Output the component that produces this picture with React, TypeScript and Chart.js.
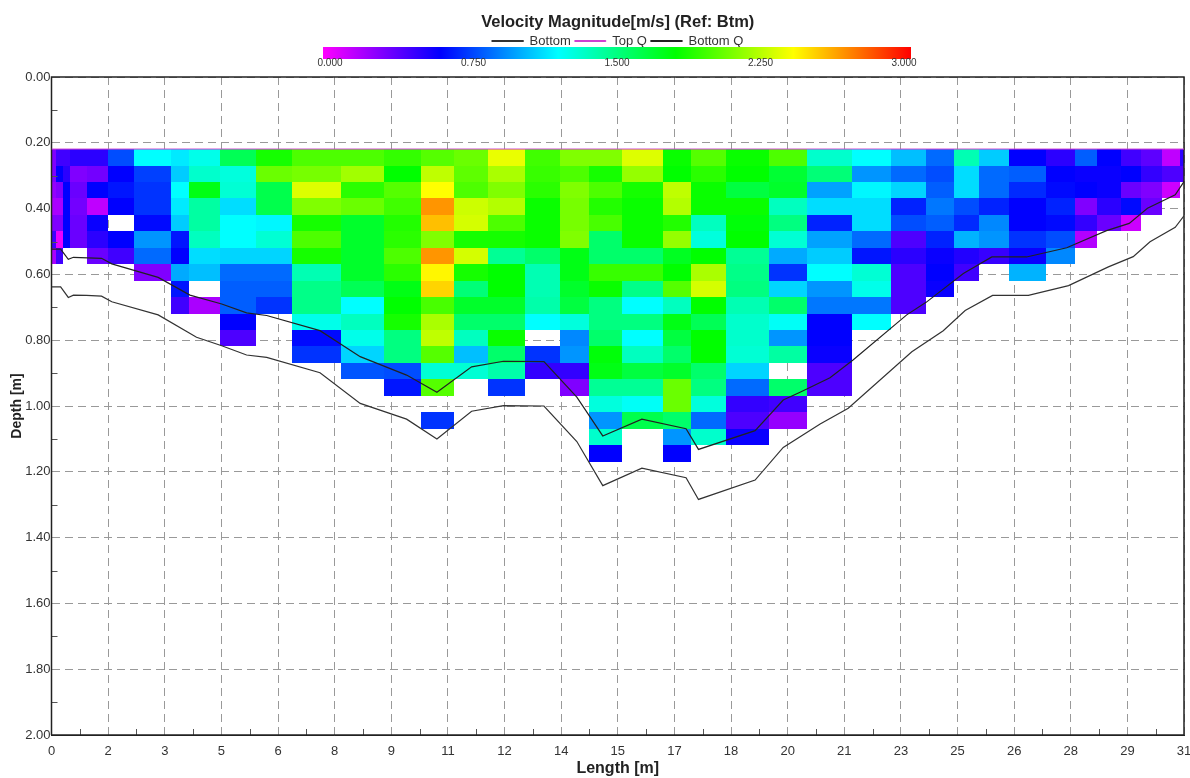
import React, { useEffect, useRef } from "react";
import { Chart, registerables } from "chart.js";

Chart.register(...registerables);

const titleText = "Velocity Magnitude[m/s] (Ref: Btm)";
const xTickLabels = ["0","2","3","5","6","8","9","11","12","14","15","17","18","20","21","23","25","26","28","29","31"];
const xTickStep = 1.55;
const colorbarLabels = ["0.000", "0.750", "1.500", "2.250", "3.000"];
const colorStops = [
  [0.0, 255, 0, 255],
  [0.6, 0, 0, 255],
  [1.2, 0, 255, 255],
  [1.8, 0, 255, 0],
  [2.4, 255, 255, 0],
  [3.0, 255, 0, 0],
];

const columnEdges = [0,0.115,0.323,0.506,0.964,1.538,2.267,3.271,3.764,4.621,5.606,6.592,7.925,9.11,10.115,11.018,11.949,12.962,13.92,14.714,15.617,16.74,17.506,18.464,19.641,20.681,21.913,22.981,23.939,24.705,25.39,26.211,27.224,28.018,28.62,29.277,29.825,30.4,30.892,31];
const firstRowDepth = 0.219;
const rowDepth = 0.05;
const _ = null;

// one list per ensemble column, top row first; null = no data
const velocityColumns: (number | null)[][] = [
  [0.3,0.3,0.25,0.2,0.3,0.45,0.2],
  [0.45,0.6,0.3,0.2,0.3,0.05,0.45],
  [0.45,0.5,0.6,0.6,0.6,0.6],
  [0.5,0.3,0.35,0.33,0.35,0.35],
  [0.5,0.33,0.6,0.15,0.58,0.5,0.35],
  [0.78,0.6,0.65,0.6,_,0.6,0.45],
  [1.2,0.75,0.72,0.72,0.62,0.95,0.85,0.3],
  [1.15,1.08,1.2,1.15,1.08,0.65,0.6,1.0,0.65,0.45],
  [1.25,1.32,1.75,1.42,1.42,1.35,1.12,1.05,_,0.2],
  [1.6,1.28,1.3,1.12,1.2,1.2,1.1,0.85,0.82,0.82,0.6,0.42],
  [1.85,2.05,1.62,1.62,1.18,1.3,1.1,0.85,0.82,0.72],
  [1.98,2.08,2.32,2.1,1.85,1.98,1.85,1.38,1.48,1.48,1.25,0.62,0.72],
  [1.98,2.18,1.9,2.05,1.7,1.7,1.7,1.7,1.6,1.2,1.35,1.25,1.1,0.8],
  [1.92,1.8,2.0,1.95,1.88,1.9,1.98,1.9,1.75,1.8,1.85,1.5,1.5,0.78,0.65],
  [2.0,2.25,2.4,2.65,2.55,2.1,2.65,2.42,2.5,1.97,2.2,2.25,2.0,1.3,2.0,_,0.72],
  [2.05,2.02,1.98,2.28,2.3,1.85,2.3,1.85,1.52,1.7,1.55,1.35,1.05,1.3],
  [2.35,2.2,2.1,2.22,1.98,1.85,1.45,1.8,1.8,1.7,1.55,1.82,1.55,1.4,0.72],
  [1.95,1.93,1.9,1.82,1.82,1.82,1.55,1.38,1.38,1.4,1.2,_,0.72,0.48],
  [2.1,1.98,2.1,2.08,2.08,2.1,1.75,1.75,1.7,1.65,1.28,0.92,0.95,0.48,0.3],
  [2.1,1.85,1.98,1.88,1.97,1.55,1.55,1.93,1.82,1.5,1.5,1.55,1.78,1.75,1.45,1.28,0.95,1.32,0.6],
  [2.32,2.15,1.85,1.82,1.82,1.82,1.55,1.93,1.48,1.2,1.5,1.2,1.35,1.65,1.45,1.22,1.62],
  [1.82,1.8,2.25,2.22,1.88,2.15,1.72,1.8,2.0,1.35,1.75,1.65,1.55,1.7,2.05,2.05,1.55,0.95,0.6],
  [2.0,1.9,1.82,1.82,1.35,1.28,1.8,2.2,2.3,1.8,1.6,1.8,1.8,1.55,1.5,1.28,0.85,1.32],
  [1.82,1.8,1.65,1.82,1.78,1.8,1.45,1.48,1.5,1.38,1.32,1.32,1.3,1.1,0.85,0.48,0.42,0.58],
  [1.98,1.68,1.7,1.35,1.5,1.3,1.0,0.72,1.1,1.55,1.22,0.95,1.42,_,1.55,0.45,0.25],
  [1.32,1.52,0.98,1.12,0.68,0.98,1.08,1.2,0.95,0.88,0.6,0.6,0.58,0.42,0.42],
  [1.2,0.95,1.18,1.12,1.12,0.85,0.65,1.3,1.25,0.88,1.2],
  [1.05,0.85,1.1,0.68,0.78,0.42,0.5,0.42,0.42,0.42],
  [0.85,0.78,0.82,0.88,0.82,0.68,0.58,0.6,0.58],
  [1.38,1.12,1.12,0.78,0.7,1.02,0.52,0.45],
  [1.08,0.85,0.85,0.68,0.92,0.95,0.47],
  [0.6,0.82,0.7,0.6,0.6,0.72,0.58,1.02],
  [0.5,0.6,0.62,0.68,0.62,0.78,0.92],
  [0.82,0.58,0.6,0.3,0.48,0.18],
  [0.6,0.58,0.58,0.5,0.35],
  [0.45,0.6,0.35,0.62,0.12],
  [0.38,0.48,0.3,0.35],
  [0.15,0.42,0.12],
  [0.5,0.42],
];

const bottomX = [0,0.25,0.46,0.6,0.96,1.37,1.65,2.92,3.97,4.66,5.34,5.89,7.35,8.45,9.72,10.55,11.5,12.37,13.48,14.38,15.09,16.16,17.37,17.71,19.26,20.03,21.04,21.81,23.55,24.41,25.01,25.76,26.74,27.84,28.93,29.61,30.07,30.76,31];
const bottomDepth = [0.638,0.638,0.67,0.663,0.664,0.666,0.683,0.723,0.791,0.817,0.845,0.852,0.899,0.992,1.04,1.1,1.016,0.999,1.0,1.108,1.242,1.189,1.218,1.284,1.225,1.126,1.055,1.007,0.835,0.771,0.71,0.664,0.664,0.634,0.577,0.546,0.501,0.457,0.422];
const bottomQX = [0,0.25,0.46,0.6,1.37,1.65,2.92,3.79,4.66,5.34,5.89,7.35,8.45,9.72,10.55,11.5,12.37,13.48,14.38,15.09,16.16,17.37,17.71,19.26,20.03,20.49,21.31,21.94,23.41,23.94,24.96,25.74,26.69,27.79,28.88,29.5,30.0,30.76,31];
const bottomQDepth = [0.523,0.523,0.554,0.548,0.551,0.568,0.609,0.663,0.69,0.717,0.725,0.771,0.85,0.906,0.958,0.881,0.864,0.865,0.973,1.091,1.04,1.069,1.132,1.075,0.982,0.958,0.914,0.86,0.723,0.685,0.597,0.547,0.547,0.519,0.467,0.445,0.399,0.358,0.318];
const topQX = [0, 31];
const topQDepth = [0.219, 0.219];

function velocityColor(v: number): string {
  for (let i = 1; i < colorStops.length; i++) {
    const a = colorStops[i - 1], b = colorStops[i];
    if (v <= b[0]) {
      const t = (v - a[0]) / (b[0] - a[0]);
      const ch = (k: number) => Math.round(a[k] + (b[k] - a[k]) * t);
      return `rgb(${ch(1)},${ch(2)},${ch(3)})`;
    }
  }
  return "rgb(255,0,0)";
}

const pts = (xs: number[], ys: number[]) => xs.map((x, i) => ({ x, y: ys[i] }));

const heatPlugin = {
  id: "heat",
  beforeInit(chart: any) {
    const fit = chart.legend.fit;
    chart.legend.fit = function () {
      fit.call(this);
      this.height = 46.5;
    };
  },
  beforeDatasetsDraw(chart: any) {
    const { ctx, chartArea, scales } = chart;
    const x = scales.x, y = scales.y;
    ctx.save();
    velocityColumns.forEach((col, c) => {
      const x0 = Math.round(x.getPixelForValue(columnEdges[c]));
      const x1 = Math.round(x.getPixelForValue(columnEdges[c + 1]));
      col.forEach((v, r) => {
        if (v === null) return;
        const y0 = Math.round(y.getPixelForValue(firstRowDepth + r * rowDepth));
        const y1 = Math.round(y.getPixelForValue(firstRowDepth + (r + 1) * rowDepth));
        ctx.fillStyle = velocityColor(v);
        ctx.fillRect(x0, y0, x1 - x0, y1 - y0);
      });
    });
    // minor ticks and frame
    ctx.strokeStyle = "#555";
    ctx.lineWidth = 1;
    ctx.beginPath();
    for (let i = 0; i < xTickLabels.length - 1; i++) {
      const px = Math.round(x.getPixelForValue((i + 0.5) * xTickStep)) + 0.5;
      ctx.moveTo(px, chartArea.bottom);
      ctx.lineTo(px, chartArea.bottom - 6);
    }
    for (let i = 0; i < 10; i++) {
      const py = Math.round(y.getPixelForValue(0.1 + i * 0.2)) + 0.5;
      ctx.moveTo(chartArea.left, py);
      ctx.lineTo(chartArea.left + 6, py);
    }
    ctx.stroke();
    ctx.strokeStyle = "#222";
    ctx.lineWidth = 1.5;
    ctx.beginPath();
    ctx.moveTo(chartArea.left, chartArea.bottom);
    ctx.lineTo(chartArea.left, chartArea.top);
    ctx.lineTo(chartArea.right, chartArea.top);
    ctx.lineTo(chartArea.right, chartArea.bottom);
    ctx.lineTo(chartArea.left, chartArea.bottom);
    ctx.stroke();
    // colour bar
    const barL = 323, barR = 911, barT = 47, barH = 12;
    const g = ctx.createLinearGradient(barL, 0, barR, 0);
    colorStops.forEach((s) => g.addColorStop(s[0] / 3, `rgb(${s[1]},${s[2]},${s[3]})`));
    ctx.fillStyle = g;
    ctx.fillRect(barL, barT, barR - barL, barH);
    ctx.fillStyle = "#333";
    ctx.font = "10px 'Liberation Sans', Arial, sans-serif";
    ctx.textAlign = "center";
    ctx.textBaseline = "middle";
    colorbarLabels.forEach((t, i) => {
      ctx.fillText(t, 330 + (i * (904 - 330)) / 4, 63.5);
    });
    ctx.restore();
  },
};

export default function App() {
  const ref = useRef<HTMLCanvasElement | null>(null);
  useEffect(() => {
    const font = "'Liberation Sans', Arial, sans-serif";
    const chart = new Chart(ref.current as HTMLCanvasElement, {
      type: "scatter",
      data: {
        datasets: [
          { label: "Bottom", data: pts(bottomX, bottomDepth), showLine: true, borderColor: "#333", backgroundColor: "#333", borderWidth: 1.2, pointRadius: 0 },
          { label: "Top Q", data: pts(topQX, topQDepth), showLine: true, borderColor: "#d040d0", backgroundColor: "#d040d0", borderWidth: 1, pointRadius: 0 },
          { label: "Bottom Q", data: pts(bottomQX, bottomQDepth), showLine: true, borderColor: "#222", backgroundColor: "#222", borderWidth: 1.2, pointRadius: 0 },
        ],
      },
      options: {
        responsive: false,
        animation: false,
        layout: { padding: { left: 0, right: 6, top: 0, bottom: 0 } },
        plugins: {
          tooltip: { enabled: false },
          title: {
            display: true,
            text: titleText,
            fullSize: false,
            color: "#222",
            font: { family: font, size: 16.5, weight: "bold", lineHeight: 1 },
            padding: { top: 14, bottom: 0 },
          },
          legend: {
            display: true,
            position: "top",
            fullSize: false,
            labels: {
              boxWidth: 31,
              boxHeight: 1,
              padding: 4,
              color: "#333",
              font: { family: font, size: 13 },
            },
          },
        },
        scales: {
          x: {
            type: "linear",
            min: 0,
            max: 31,
            afterBuildTicks: (s: any) => {
              s.ticks = xTickLabels.map((_l, i) => ({ value: i * xTickStep }));
            },
            afterFit: (s: any) => {
              s.height = 43;
              s.paddingRight = 0;
              s.paddingLeft = 0;
            },
            ticks: {
              autoSkip: false,
              maxRotation: 0,
              padding: 9,
              color: "#333",
              font: { family: font, size: 13 },
              callback: (_v: any, i: number) => xTickLabels[i],
            },
            grid: { color: "#999", drawTicks: false, lineWidth: 1 },
            border: { color: "#222", dash: [8, 5], width: 1 },
            title: {
              display: true,
              text: "Length [m]",
              color: "#222",
              font: { family: font, size: 16, weight: "bold" },
              padding: { top: 0, bottom: 0 },
            },
          },
          y: {
            type: "linear",
            reverse: true,
            min: 0,
            max: 2,
            afterBuildTicks: (s: any) => {
              s.ticks = [0, 0.2, 0.4, 0.6, 0.8, 1.0, 1.2, 1.4, 1.6, 1.8, 2.0].map((value) => ({ value }));
            },
            afterFit: (s: any) => {
              s.width = 51.5;
              s.paddingTop = 0;
              s.paddingBottom = 0;
            },
            ticks: {
              padding: 1,
              color: "#333",
              font: { family: font, size: 13 },
              callback: (v: any) => Number(v).toFixed(2),
            },
            grid: { color: "#999", drawTicks: false, lineWidth: 1 },
            border: { color: "#222", dash: [8, 5], width: 1 },
            title: {
              display: true,
              text: "Depth [m]",
              color: "#222",
              font: { family: font, size: 14, weight: "bold" },
              padding: { top: 9, bottom: 0 },
            },
          },
        },
      } as any,
      plugins: [heatPlugin],
    } as any);
    return () => chart.destroy();
  }, []);
  return (
    <div style={{ position: "absolute", left: 0, top: 0, width: 1190, height: 778, background: "#fff" }}>
      <canvas ref={ref} width={1190} height={778} style={{ display: "block" }} />
    </div>
  );
}
